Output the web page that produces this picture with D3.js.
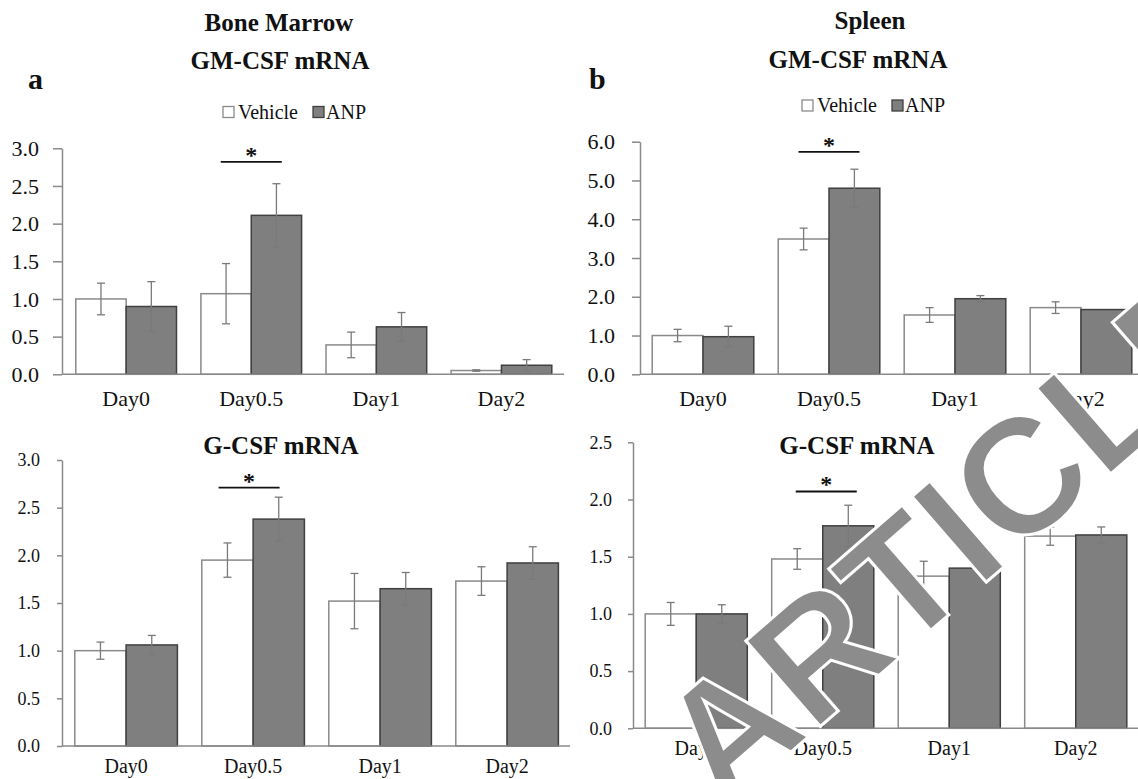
<!DOCTYPE html>
<html>
<head>
<meta charset="utf-8">
<script src="https://cdn.jsdelivr.net/npm/d3@7"></script>
<style>
  body { margin: 0; background: #fff; }
  svg { display: block; }
</style>
</head>
<body>
<div id="chart"></div>
<script>
const days = ["Day0", "Day0.5", "Day1", "Day2"];
const seriesNames = ["Vehicle", "ANP"];

// bone marrow GM-CSF
const bmGmVehicle = [1.0, 1.07, 0.39, 0.05];
const bmGmVehicleErr = [0.21, 0.40, 0.17, 0.01];
const bmGmAnp = [0.90, 2.11, 0.63, 0.12];
const bmGmAnpErr = [0.33, 0.42, 0.19, 0.075];

// spleen GM-CSF
const spGmVehicle = [1.0, 3.49, 1.53, 1.72];
const spGmVehicleErr = [0.16, 0.28, 0.19, 0.15];
const spGmAnp = [0.97, 4.80, 1.95, 1.67];
const spGmAnpErr = [0.27, 0.49, 0.08, 0.0];

// bone marrow G-CSF
const bmGVehicle = [1.0, 1.95, 1.52, 1.73];
const bmGVehicleErr = [0.09, 0.18, 0.29, 0.15];
const bmGAnp = [1.06, 2.38, 1.65, 1.92];
const bmGAnpErr = [0.10, 0.23, 0.17, 0.17];

// spleen G-CSF
const spGVehicle = [1.0, 1.48, 1.33, 1.68];
const spGVehicleErr = [0.10, 0.09, 0.13, 0.08];
const spGAnp = [1.0, 1.77, 1.40, 1.69];
const spGAnpErr = [0.08, 0.18, 0.0, 0.07];

const bmTicks = [0, 0.5, 1.0, 1.5, 2.0, 2.5, 3.0];
const spGmTicks = [0, 1, 2, 3, 4, 5, 6];
const spGTicks = [0, 0.5, 1.0, 1.5, 2.0, 2.5];

const serif = "'Liberation Serif', 'Times New Roman', 'DejaVu Serif', serif";
const w = 1138, h = 779;
const svg = d3.select("#chart").append("svg").attr("width", w).attr("height", h)
    .style("font-family", serif);

const addText = (sel, x, y, txt, size, bold, anchor) => sel.append("text")
    .attr("x", x).attr("y", y).attr("text-anchor", anchor || "start")
    .style("font-family", serif).style("font-size", size + "px")
    .style("font-weight", bold ? "bold" : "normal").style("fill", "#111").text(txt);

const drawPanel = (p) => {
    const y = d3.scaleLinear().domain([0, p.ticks[p.ticks.length - 1]]).range([p.y0, p.yTop]);
    const x = d3.scaleBand().domain(days).range(p.band).paddingInner(0).paddingOuter(0);
    const pad = 12.2;
    const bw = (x.bandwidth() - 2 * pad) / 2;
    const g = svg.append("g");

    const yAxis = d3.axisLeft(y).tickValues(p.ticks).tickFormat(d3.format(".1f"))
        .tickSize(p.tickLen).tickSizeOuter(0).tickPadding(p.tickPad);
    const ya = g.append("g").attr("transform", `translate(${p.axisX},0)`).call(yAxis);
    ya.attr("font-family", null);
    ya.selectAll("path, line").attr("stroke", "#8a8a8a").attr("stroke-width", 1.5);
    ya.selectAll("text").style("font-size", p.tickFont + "px").style("font-family", serif).style("fill", "#111");

    const xAxis = d3.axisBottom(x).tickSize(0).tickPadding(p.labelPad);
    const xa = g.append("g").attr("transform", `translate(0,${p.y0})`).call(xAxis);
    xa.attr("font-family", null);
    xa.select(".domain").remove();
    xa.selectAll("text").style("font-size", p.labelFont + "px").style("font-family", serif).style("fill", "#111");

    const rows = days.map((d, i) => ({ day: d, v: p.veh[i], ve: p.vehErr[i], a: p.anp[i], ae: p.anpErr[i] }));

    g.selectAll(".veh").data(rows).enter().append("rect")
        .attr("x", d => x(d.day) + pad).attr("y", d => y(d.v))
        .attr("width", bw).attr("height", d => y(0) - y(d.v))
        .attr("fill", "#fff").attr("stroke", "#8a8a8a").attr("stroke-width", 1.5);
    g.selectAll(".anp").data(rows).enter().append("rect")
        .attr("x", d => x(d.day) + pad + bw).attr("y", d => y(d.a))
        .attr("width", bw).attr("height", d => y(0) - y(d.a))
        .attr("fill", "#7f7f7f").attr("stroke", "#404040").attr("stroke-width", 1.5);

    const errs = [];
    rows.forEach(d => {
        errs.push({ cx: x(d.day) + pad + bw / 2, v: d.v, e: d.ve });
        errs.push({ cx: x(d.day) + pad + bw * 1.5, v: d.a, e: d.ae });
    });
    const eg = g.selectAll(".err").data(errs.filter(d => d.e > 0)).enter().append("g")
        .attr("stroke", "#7a7a7a").attr("stroke-width", 1.3);
    eg.append("line").attr("x1", d => d.cx).attr("x2", d => d.cx)
        .attr("y1", d => y(d.v - d.e)).attr("y2", d => y(d.v + d.e));
    eg.append("line").attr("x1", d => d.cx - 4).attr("x2", d => d.cx + 4)
        .attr("y1", d => y(d.v - d.e)).attr("y2", d => y(d.v - d.e));
    eg.append("line").attr("x1", d => d.cx - 4).attr("x2", d => d.cx + 4)
        .attr("y1", d => y(d.v + d.e)).attr("y2", d => y(d.v + d.e));

    // x axis line
    g.append("line").attr("x1", p.axisX).attr("x2", p.xEnd)
        .attr("y1", y(0)).attr("y2", y(0)).attr("stroke", "#8a8a8a").attr("stroke-width", 1.5);

    // significance bar
    const sc = x(p.sigDay) + x.bandwidth() / 2 + p.sigShift;
    g.append("line").attr("x1", sc - 30.5).attr("x2", sc + 30.5)
        .attr("y1", y(p.sigLevel)).attr("y2", y(p.sigLevel)).attr("stroke", "#111").attr("stroke-width", 1.8);
    addText(g, sc, y(p.sigLevel) + 1, "*", 24, true, "middle");

    addText(g, p.titleX, p.titleY, p.title, 25, true, "middle");
};

const drawLegend = (cx, cy) => {
    const lg = svg.append("g");
    lg.append("rect").attr("x", cx - 70).attr("y", cy - 5.5).attr("width", 11).attr("height", 11)
        .attr("fill", "#fff").attr("stroke", "#8a8a8a").attr("stroke-width", 1.3);
    addText(lg, cx - 55, cy + 6.5, seriesNames[0], 20, false);
    lg.append("rect").attr("x", cx + 20).attr("y", cy - 5.5).attr("width", 11).attr("height", 11)
        .attr("fill", "#7f7f7f").attr("stroke", "#404040").attr("stroke-width", 1.3);
    addText(lg, cx + 33, cy + 6.5, seriesNames[1], 20, false);
};

drawPanel({ axisX: 62, band: [63.6, 564], xEnd: 564, y0: 374.3, yTop: 148.3, ticks: bmTicks,
    tickLen: 9, tickPad: 14, tickFont: 22, labelFont: 22, labelPad: 16,
    veh: bmGmVehicle, vehErr: bmGmVehicleErr, anp: bmGmAnp, anpErr: bmGmAnpErr,
    sigDay: "Day0.5", sigLevel: 2.82, sigShift: 0, title: "GM-CSF mRNA", titleX: 280, titleY: 69 });
drawPanel({ axisX: 640, band: [640, 1144], xEnd: 1144, y0: 374.3, yTop: 141.7, ticks: spGmTicks,
    tickLen: 8, tickPad: 17, tickFont: 22, labelFont: 22, labelPad: 16,
    veh: spGmVehicle, vehErr: spGmVehicleErr, anp: spGmAnp, anpErr: spGmAnpErr,
    sigDay: "Day0.5", sigLevel: 5.74, sigShift: 0, title: "GM-CSF mRNA", titleX: 858, titleY: 68 });
drawPanel({ axisX: 62, band: [62.6, 570.6], xEnd: 570, y0: 746, yTop: 460, ticks: bmTicks,
    tickLen: 5, tickPad: 17, tickFont: 18, labelFont: 20, labelPad: 13,
    veh: bmGVehicle, vehErr: bmGVehicleErr, anp: bmGAnp, anpErr: bmGAnpErr,
    sigDay: "Day0.5", sigLevel: 2.71, sigShift: -4, title: "G-CSF mRNA", titleX: 281, titleY: 454 });
drawPanel({ axisX: 633, band: [633, 1139], xEnd: 1139, y0: 728.3, yTop: 442.3, ticks: spGTicks,
    tickLen: 5, tickPad: 16, tickFont: 18, labelFont: 20, labelPad: 13,
    veh: spGVehicle, vehErr: spGVehicleErr, anp: spGAnp, anpErr: spGAnpErr,
    sigDay: "Day0.5", sigLevel: 2.07, sigShift: 3.5, title: "G-CSF mRNA", titleX: 857, titleY: 454 });

drawLegend(293, 112);
drawLegend(872, 105.5);

addText(svg, 279, 31, "Bone Marrow", 25, true, "middle");
addText(svg, 870, 29, "Spleen", 25, true, "middle");
addText(svg, 28, 89, "a", 30, true);
addText(svg, 589, 89, "b", 30, true);

// watermark
svg.append("text").attr("transform", "translate(722,812) rotate(-41)")
    .style("font-family", "'Liberation Sans', Arial, sans-serif").style("font-size", "165px").style("font-weight", "bold")
    .style("fill", "#8c8c8c").style("stroke", "#fff").style("stroke-width", 3)
    .text("ARTICLE");
</script>
</body>
</html>
